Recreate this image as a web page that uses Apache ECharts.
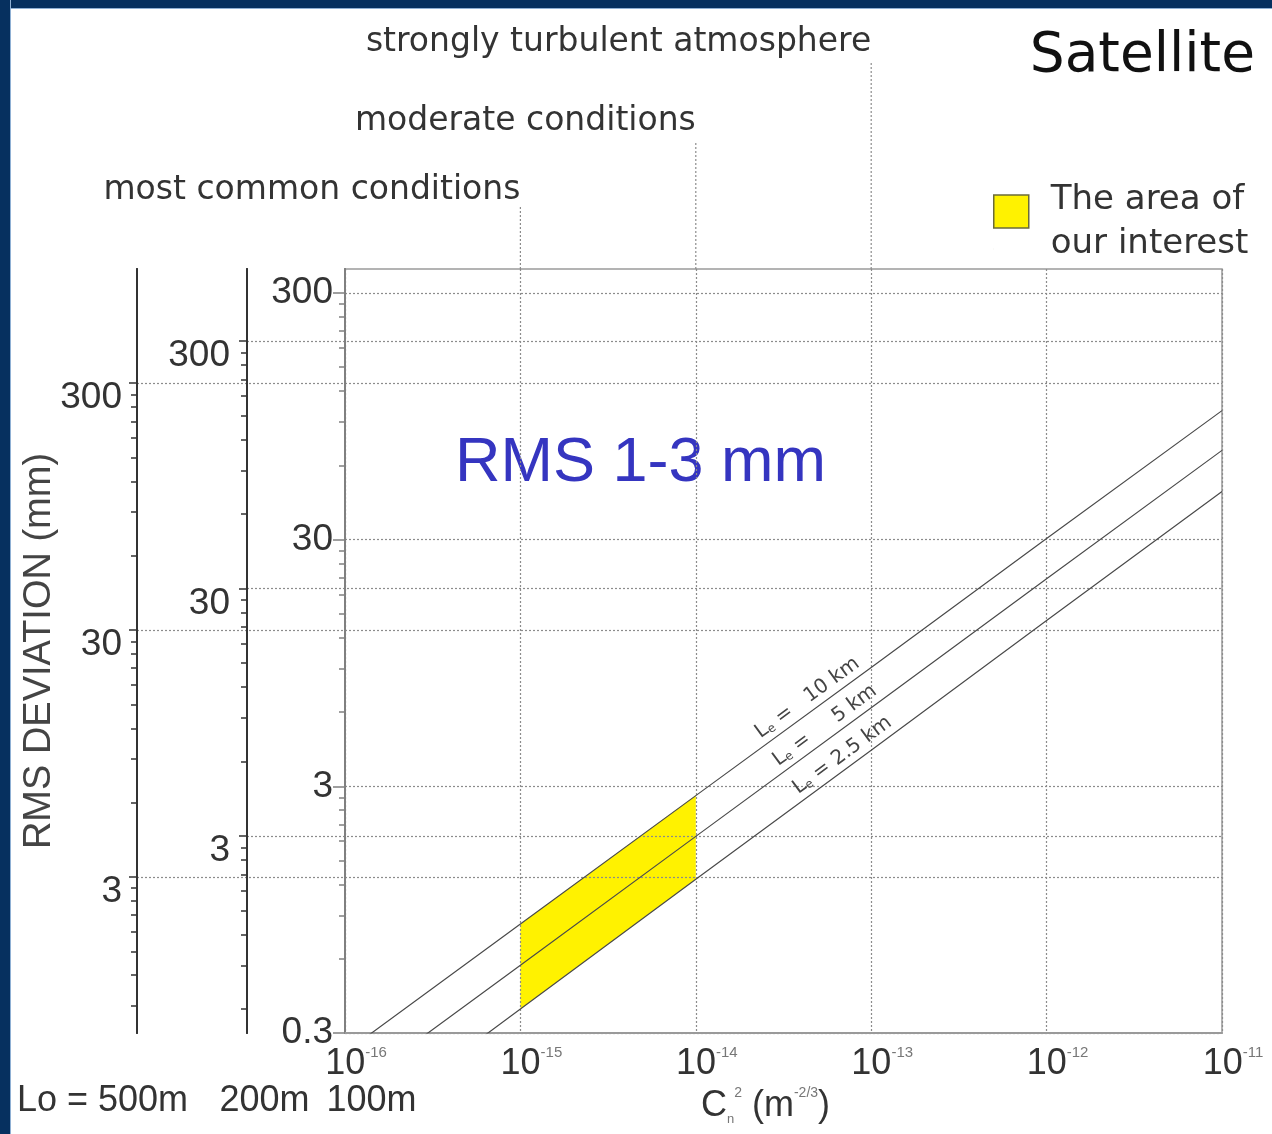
<!DOCTYPE html>
<html><head><meta charset="utf-8">
<script src="https://cdn.jsdelivr.net/npm/echarts@6/dist/echarts.min.js"></script>
<style>
html,body{margin:0;padding:0;background:#fff;}
#chart{position:absolute;left:0;top:0;width:1272px;height:1134px;}
.bt{position:absolute;left:0;top:0;width:1272px;height:8px;background:#06305f;border-bottom:1px solid #8fb0d4;}
.bl{position:absolute;left:0;top:0;width:10px;height:1134px;background:#06305f;border-right:1px solid #8fb0d4;}
</style></head>
<body><div id="chart"></div><div class="bt"></div><div class="bl"></div>
<script>
// ---------------- DATA ----------------
const cn2 = [1e-16, 1e-15, 1e-14, 1e-13, 1e-12, 1e-11];           // Cn^2 (m^-2/3)
const rmsLe10km  = [0.25, 0.83, 2.75, 9.1, 30.3, 100];              // RMS (mm), Lo=100m scale
const rmsLe5km   = [0.17, 0.565, 1.88, 6.25, 20.8, 69];
const rmsLe2_5km = [0.112, 0.375, 1.26, 4.2, 14.1, 47];
const lineLabels = ['10 km', '5 km', '2.5 km'];
const areaCn2 = [1e-15, 1e-14];                                      // yellow area bounds
const areaName = 'The area of\nour interest';
const conditionLabels = ['most common conditions', 'moderate conditions', 'strongly turbulent atmosphere'];
const conditionCn2 = [1e-15, 1e-14, 1e-13];
const innerTicks  = [0.3, 3, 30, 300];   // Lo = 100m
const middleTicks = [3, 30, 300];        // Lo = 200m
const outerTicks  = [3, 30, 300];        // Lo = 500m
const loNames = ['Lo = 500m', '200m', '100m'];

// ---------------- LAYOUT ----------------
const L = Math.log10;
const ARIAL = '"Liberation Sans", Arial, sans-serif';
const WIDE = '"DejaVu Sans", sans-serif';
const innerRange = [0.3, 375], middleRange = [0.48, 586], outerRange = [0.70, 869];
const annotTextMidY = [190, 121, 42], annotLineTopY = [206, 141, 63];
const lineLabelAnchor = [-13.32, -13.22, -13.12];
const gridStyle = {color: '#8c8c8c', type: [2, 2], width: 1.2};
const lineSets = [rmsLe10km, rmsLe5km, rmsLe2_5km];

function minorTicks(range) {
  const out = [];
  [0.03, 0.3, 3, 30].forEach(d => { for (let k = 2; k <= 9; k++) { const v = d * k; if (v >= range[0] && v <= Math.min(range[1], 300.01)) out.push(L(v)); } });
  return out;
}
function fmt(v) { return String(parseFloat(Math.pow(10, v).toPrecision(1))); }
function majorAxis(gridIndex, ticks, range, margin, va, color, tickLen, extra) {
  return Object.assign({
    type: 'value', gridIndex, position: 'left', min: L(range[0]), max: L(range[1]),
    axisLine: {show: true, onZero: false, lineStyle: {color, width: 2}},
    axisTick: {show: true, length: tickLen, customValues: ticks.map(L), lineStyle: {color, width: 1.5}},
    axisLabel: {show: true, customValues: ticks.map(L), formatter: fmt, margin, fontFamily: ARIAL, fontSize: 37, color: '#333', verticalAlign: va, lineHeight: 30},
    splitLine: {show: true, lineStyle: gridStyle}
  }, extra || {});
}
function minorAxis(gridIndex, range, color, extra) {
  return Object.assign({
    type: 'value', gridIndex, position: 'left', min: L(range[0]), max: L(range[1]),
    axisLine: {show: true, onZero: false, lineStyle: {color, width: 2}},
    axisTick: {show: true, length: 6, customValues: minorTicks(range), lineStyle: {color, width: 1.5}},
    axisLabel: {show: false}, splitLine: {show: false}
  }, extra || {});
}
function loName(name, padding) {
  return {name, nameLocation: 'start', nameGap: 50, nameMoveOverlap: false,
    nameTextStyle: {fontFamily: ARIAL, fontSize: 36, color: '#333', padding}};
}
function valueAt(arr, xl) {
  const xs = cn2.map(L);
  for (let i = 0; i < xs.length - 1; i++) {
    if (xl >= xs[i] && xl <= xs[i + 1]) {
      const t = (xl - xs[i]) / (xs[i + 1] - xs[i]);
      return L(arr[i]) + t * (L(arr[i + 1]) - L(arr[i]));
    }
  }
  return L(arr[arr.length - 1]);
}

const chart = echarts.init(document.getElementById('chart'), null, {renderer: 'canvas'});
const gridBase = {top: 269, bottom: 101, right: 50, outerBoundsMode: 'none', containLabel: false};

const option = {
  backgroundColor: '#ffffff',
  animation: false,
  title: {text: 'Satellite', right: 12, top: 24,
    textStyle: {fontFamily: WIDE, fontSize: 55, fontWeight: 'normal', color: '#111'}},
  legend: {left: 988, top: 173, orient: 'vertical', itemWidth: 35, itemHeight: 54, selectedMode: false,
    data: [{name: areaName, icon: 'path://M0 0L35 0L35 33L0 33Z M0 54L0.05 54',
            itemStyle: {color: '#fff200', borderColor: '#6b6b3a', borderWidth: 1.5}}],
    textStyle: {fontFamily: WIDE, fontSize: 34, color: '#333', lineHeight: 44, padding: [0, 0, 0, 17]}},
  grid: [
    Object.assign({left: 345, show: true, borderColor: '#9a9a9a', borderWidth: 1.5, backgroundColor: 'transparent'}, gridBase),
    Object.assign({left: 247}, gridBase),
    Object.assign({left: 137}, gridBase)
  ],
  xAxis: [
    {type: 'value', gridIndex: 0, min: -16, max: -11, interval: 1,
     axisLine: {show: true, onZero: false, lineStyle: {color: '#9a9a9a', width: 2}},
     axisTick: {show: false},
     splitLine: {show: true, lineStyle: gridStyle},
     axisLabel: {margin: 12, formatter: v => '{sp|}{b|10}{sup|' + Math.round(v) + '}',
       rich: {sp: {width: 22}, b: {fontFamily: ARIAL, fontSize: 36, color: '#333', lineHeight: 38},
              sup: {fontFamily: ARIAL, fontSize: 15, color: '#777', verticalAlign: 'top', lineHeight: 18}}},
     name: '{b|C}{sub|n}{sup|2}{b| (m}{sup|-2/3}{b|)}', nameLocation: 'middle', nameGap: 53, nameMoveOverlap: false,
     nameTextStyle: {padding: [0, 36, 0, 0],
       rich: {b: {fontFamily: ARIAL, fontSize: 36, color: '#333', lineHeight: 40},
              sub: {fontFamily: ARIAL, fontSize: 13, color: '#777', verticalAlign: 'bottom', lineHeight: 14},
              sup: {fontFamily: ARIAL, fontSize: 14, color: '#777', verticalAlign: 'top', lineHeight: 16}}}},
    {type: 'value', gridIndex: 1, min: 0, max: 1, show: false, axisLine: {onZero: false}},
    {type: 'value', gridIndex: 2, min: 0, max: 1, show: false, axisLine: {onZero: false}}
  ],
  yAxis: [
    majorAxis(0, innerTicks, innerRange, 12, 'middle', '#808080', 12),
    minorAxis(0, innerRange, '#808080', loName(loNames[2], [0, 0, 0, 53])),
    majorAxis(1, middleTicks, middleRange, 17, 'top', '#333', 8),
    minorAxis(1, middleRange, '#333', loName(loNames[1], [0, 0, 0, 35])),
    majorAxis(2, outerTicks, outerRange, 15, 'top', '#333', 8,
      {name: 'RMS DEVIATION (mm)', nameLocation: 'middle', nameGap: 78, nameMoveOverlap: false,
       nameTextStyle: {fontFamily: ARIAL, fontSize: 38, color: '#444'}}),
    minorAxis(2, outerRange, '#333', loName(loNames[0], [0, 69, 0, 0]))
  ],
  graphic: [
    {type: 'text', x: 455, y: 464, style: {text: 'RMS 1-3 mm', font: '63px ' + ARIAL, fill: '#3535c0', align: 'left', verticalAlign: 'middle'}}
  ],
  series: [
    {type: 'custom', name: areaName, xAxisIndex: 0, yAxisIndex: 0, z: -1, silent: true, clip: false,
     itemStyle: {color: '#fff200'}, data: [[0]],
     renderItem: (params, api) => {
       const i0 = cn2.indexOf(areaCn2[0]), i1 = cn2.indexOf(areaCn2[1]);
       const pts = [
         api.coord([L(cn2[i0]), L(rmsLe10km[i0])]), api.coord([L(cn2[i1]), L(rmsLe10km[i1])]),
         api.coord([L(cn2[i1]), L(rmsLe2_5km[i1])]), api.coord([L(cn2[i0]), L(rmsLe2_5km[i0])])];
       return {type: 'polygon', shape: {points: pts}, style: {fill: '#fff200', stroke: '#fff200', lineWidth: 0}};
     }},
    ...lineSets.map((arr, k) => ({
      type: 'line', name: 'Le = ' + lineLabels[k], xAxisIndex: 0, yAxisIndex: 0, symbol: 'none', silent: true, clip: true, z: 3,
      lineStyle: {color: '#4a4a4a', width: 1.2},
      data: arr.map((v, i) => [L(cn2[i]), L(v)])
    })),
    {type: 'custom', name: 'lineLabels', xAxisIndex: 0, yAxisIndex: 0, silent: true, clip: false, z: 4,
     data: [[0], [1], [2]],
     renderItem: (params, api) => {
       const i = api.value(0), arr = lineSets[i], xl = lineLabelAnchor[i];
       const p = api.coord([xl, valueAt(arr, xl)]);
       const p1 = api.coord([xl - 0.3, valueAt(arr, xl - 0.3)]);
       const p2 = api.coord([xl + 0.3, valueAt(arr, xl + 0.3)]);
       const ang = Math.atan2(p1[1] - p2[1], p2[0] - p1[0]);
       const num = lineLabels[i];
       const pad = num.length === 5 ? '   ' : (num.length === 4 ? '     ' : ' ');
       return {type: 'text', x: p[0], y: p[1], rotation: ang,
         style: {text: '{l|L}{s|e}{l| =' + pad + num + '}', x: 0, y: -3, align: 'center', verticalAlign: 'bottom',
           rich: {l: {fontFamily: WIDE, fontSize: 20, fill: '#444', color: '#444'},
                  s: {fontFamily: WIDE, fontSize: 12, fill: '#444', color: '#444', verticalAlign: 'bottom'}}}};
     }},
    {type: 'custom', name: 'conditions', xAxisIndex: 0, yAxisIndex: 0, silent: true, clip: false, z: 4,
     data: [[0], [1], [2]],
     renderItem: (params, api) => {
       const i = api.value(0);
       const x = api.coord([L(conditionCn2[i]), 0])[0];
       const topY = params.coordSys.y;
       return {type: 'group', children: [
         {type: 'line', shape: {x1: x, y1: topY, x2: x, y2: annotLineTopY[i]}, style: {stroke: '#8c8c8c', lineWidth: 1.2, lineDash: [2, 2]}},
         {type: 'text', x: x, y: annotTextMidY[i], style: {text: conditionLabels[i], font: '33px ' + WIDE, fill: '#333', align: 'right', verticalAlign: 'middle'}}
       ]};
     }}
  ]
};
chart.setOption(option);
</script>
</body></html>
